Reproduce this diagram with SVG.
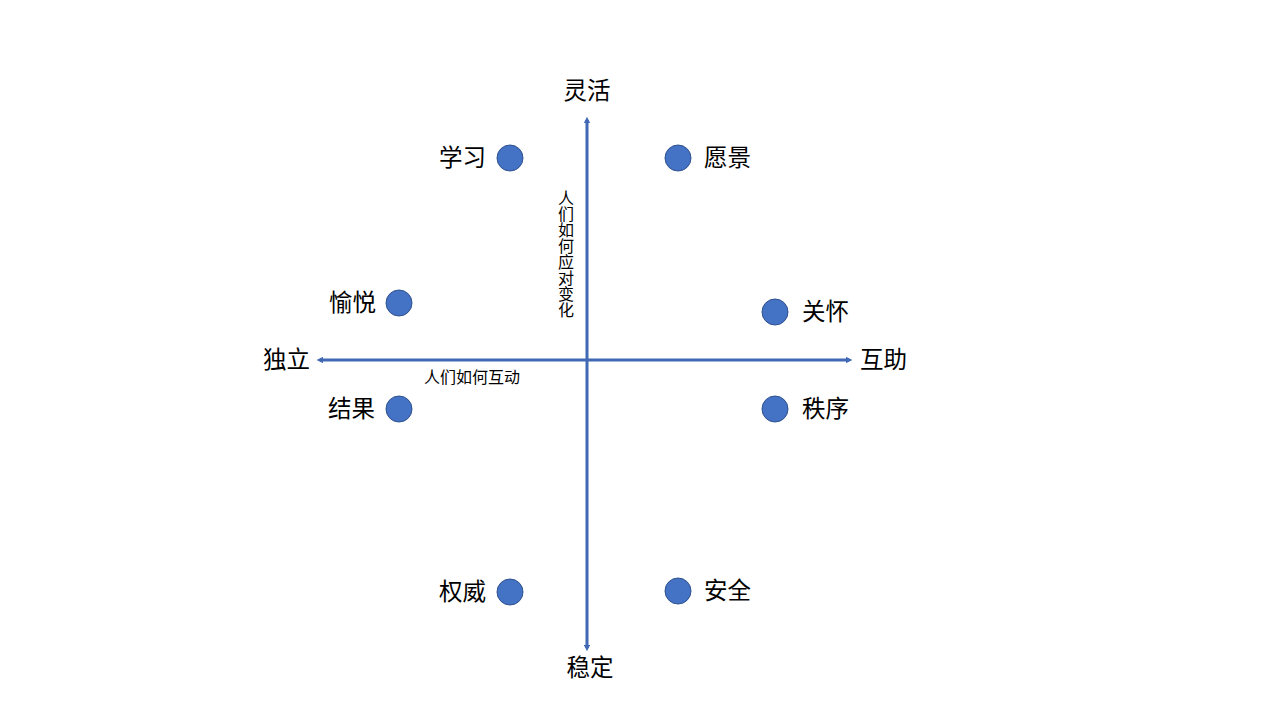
<svg xmlns="http://www.w3.org/2000/svg" width="1280" height="720" viewBox="0 0 1280 720">
<style>
text{font-family:"Noto Sans CJK SC","Liberation Sans",sans-serif;fill:#000}
.lab{font-size:23.5px;dominant-baseline:central}
.small{font-size:16px;dominant-baseline:central}
.dot{fill:#4472C4;stroke:#2F528F;stroke-width:1}
.axis{stroke:#4068B4;stroke-width:3;fill:none}
</style>
<defs>
<marker id="ah" viewBox="0 0 10 10" refX="5" refY="5" markerWidth="2.2" markerHeight="2.2" orient="auto-start-reverse">
<path d="M0,0 L10,5 L0,10 z" fill="#4068B4"/>
</marker>
</defs>
<rect width="1280" height="720" fill="#fff"/>
<g id="connectors">
<line class="axis" x1="587" y1="120" x2="587" y2="648" marker-start="url(#ah)" marker-end="url(#ah)"/>
<line class="axis" x1="320" y1="360" x2="849" y2="360" marker-start="url(#ah)" marker-end="url(#ah)"/>
</g>
<g id="axis-labels">
<text class="lab" x="587" y="89" text-anchor="middle">灵活</text>
<text class="lab" x="590" y="666" text-anchor="middle">稳定</text>
<text class="lab" x="310" y="358" text-anchor="end">独立</text>
<text class="lab" x="860" y="358">互助</text>
<text class="small" x="472" y="376" text-anchor="middle">人们如何互动</text>
<text class="small" x="566" y="254" text-anchor="middle" style="writing-mode:vertical-rl;dominant-baseline:auto">人们如何应对变化</text>
</g>
<g id="n-xuexi"><circle class="dot" cx="510" cy="158" r="13"/><text class="lab" x="486" y="156" text-anchor="end">学习</text></g>
<g id="n-yuanjing"><circle class="dot" cx="678" cy="158" r="13"/><text class="lab" x="704" y="156">愿景</text></g>
<g id="n-yuyue"><circle class="dot" cx="399" cy="303" r="13"/><text class="lab" x="376" y="301" text-anchor="end">愉悦</text></g>
<g id="n-guanhuai"><circle class="dot" cx="775" cy="312" r="13"/><text class="lab" x="802" y="310">关怀</text></g>
<g id="n-jieguo"><circle class="dot" cx="399" cy="409" r="13"/><text class="lab" x="375" y="407" text-anchor="end">结果</text></g>
<g id="n-zhixu"><circle class="dot" cx="775" cy="409" r="13"/><text class="lab" x="802" y="407">秩序</text></g>
<g id="n-quanwei"><circle class="dot" cx="510" cy="592" r="13"/><text class="lab" x="486" y="590" text-anchor="end">权威</text></g>
<g id="n-anquan"><circle class="dot" cx="678" cy="591" r="13"/><text class="lab" x="704" y="589">安全</text></g>
</svg>
